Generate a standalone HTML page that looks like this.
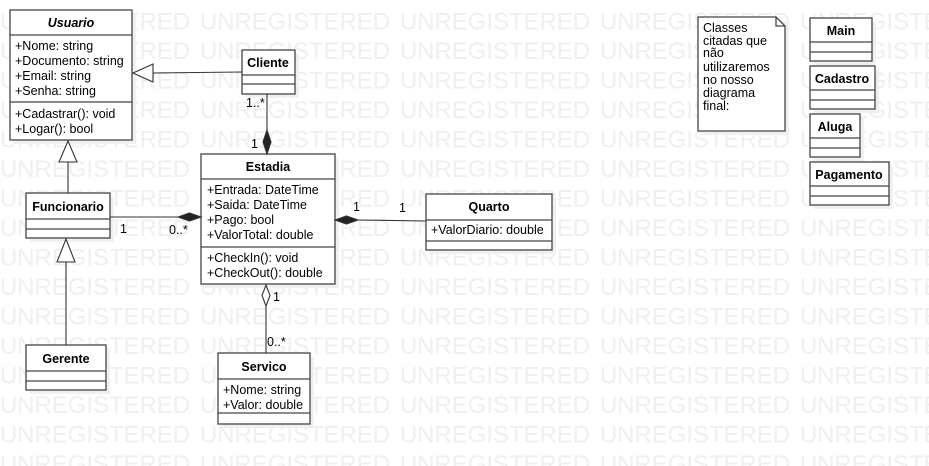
<!DOCTYPE html>
<html><head><meta charset="utf-8"><style>
html,body{margin:0;padding:0;background:#fff;}
svg{display:block;font-family:"Liberation Sans",sans-serif;}
</style></head><body>
<svg width="929" height="466" viewBox="0 0 929 466" xmlns="http://www.w3.org/2000/svg">
<defs>
<pattern id="wm" x="0" y="0.5" width="200" height="29.5" patternUnits="userSpaceOnUse">
<text x="0" y="29" font-size="24" fill="#efefef" textLength="190" lengthAdjust="spacingAndGlyphs" font-family="Liberation Sans, sans-serif">UNREGISTERED</text>
</pattern>
</defs>
<rect x="0" y="0" width="929" height="466" fill="url(#wm)"/>
<!-- shadows -->
<g fill="#f0f0f0">
<rect x="14" y="14" width="122" height="130"/><rect x="246" y="54" width="53" height="44"/>
<rect x="30" y="197" width="84" height="45"/><rect x="30" y="349" width="80" height="45"/>
<rect x="205" y="158" width="134" height="130"/><rect x="430" y="198" width="126" height="56"/>
<rect x="222" y="357" width="92" height="71"/><rect x="702" y="21" width="87" height="114"/>
<rect x="814" y="22" width="62" height="43"/><rect x="814" y="70" width="65" height="43"/>
<rect x="814" y="118" width="50" height="43"/><rect x="814" y="166" width="79" height="43"/>
</g>
<g fill="#fff" stroke="#444" stroke-width="1.3">
<rect x="10" y="10" width="122" height="130"/><line x1="10" y1="35" x2="132" y2="35"/><line x1="10" y1="102" x2="132" y2="102"/>
<rect x="242" y="50" width="53" height="44"/><line x1="242" y1="75" x2="295" y2="75"/><line x1="242" y1="84" x2="295" y2="84"/>
<rect x="26" y="193" width="84" height="45"/><line x1="26" y1="219" x2="110" y2="219"/><line x1="26" y1="229" x2="110" y2="229"/>
<rect x="26" y="345" width="80" height="45"/><line x1="26" y1="371" x2="106" y2="371"/><line x1="26" y1="381" x2="106" y2="381"/>
<rect x="201" y="154" width="134" height="130"/><line x1="201" y1="179" x2="335" y2="179"/><line x1="201" y1="247" x2="335" y2="247"/>
<rect x="426" y="194" width="126" height="56"/><line x1="426" y1="220" x2="552" y2="220"/><line x1="426" y1="241" x2="552" y2="241"/>
<rect x="218" y="353" width="92" height="71"/><line x1="218" y1="379" x2="310" y2="379"/><line x1="218" y1="413" x2="310" y2="413"/>
<path d="M698 17 H776 L785 26 V131 H698 Z"/><path d="M776 17 V26 H785" fill="none"/>
<rect x="810" y="18" width="62" height="43"/><line x1="810" y1="42" x2="872" y2="42"/><line x1="810" y1="52" x2="872" y2="52"/>
<rect x="810" y="66" width="65" height="43"/><line x1="810" y1="90" x2="875" y2="90"/><line x1="810" y1="100" x2="875" y2="100"/>
<rect x="810" y="114" width="50" height="43"/><line x1="810" y1="138" x2="860" y2="138"/><line x1="810" y1="148" x2="860" y2="148"/>
<rect x="810" y="162" width="79" height="43"/><line x1="810" y1="186" x2="889" y2="186"/><line x1="810" y1="196" x2="889" y2="196"/>
</g>
<!-- connectors -->
<g stroke="#333" stroke-width="1.1" fill="none">
<line x1="242" y1="72" x2="153" y2="73"/><path d="M153 64 L133 73 L153 82 Z" fill="#fff"/>
<line x1="68" y1="193" x2="68" y2="162"/><path d="M59 162 L68 141 L77 162 Z" fill="#fff"/>
<line x1="66" y1="345" x2="66" y2="262"/><path d="M57 262 L66 239 L75 262 Z" fill="#fff"/>
<line x1="267" y1="94" x2="267" y2="131"/><path d="M267 130 L271 142 L267 154 L263 142 Z" fill="#222"/>
<line x1="110" y1="217" x2="178" y2="217"/><path d="M178 217 L189.5 213 L201 217 L189.5 221 Z" fill="#222"/>
<line x1="358" y1="220" x2="426" y2="221"/><path d="M335 220 L346.5 216 L358 220 L346.5 224 Z" fill="#222"/>
<line x1="266" y1="306" x2="266" y2="353"/><path d="M266 285 L270 295.5 L266 306 L262 295.5 Z" fill="#fff"/>
</g>
<g font-size="12.5" fill="#000">
<text x="71" y="27" font-weight="bold" font-style="italic" text-anchor="middle">Usuario</text>
<text x="15" y="50">+Nome: string</text><text x="15" y="65">+Documento: string</text>
<text x="15" y="80">+Email: string</text><text x="15" y="95">+Senha: string</text>
<text x="15" y="118">+Cadastrar(): void</text><text x="15" y="133">+Logar(): bool</text>
<text x="268" y="67" font-weight="bold" text-anchor="middle">Cliente</text>
<text x="68" y="211" font-weight="bold" text-anchor="middle">Funcionario</text>
<text x="66" y="363" font-weight="bold" text-anchor="middle">Gerente</text>
<text x="268" y="171" font-weight="bold" text-anchor="middle">Estadia</text>
<text x="207" y="194">+Entrada: DateTime</text><text x="207" y="209">+Saida: DateTime</text>
<text x="207" y="224">+Pago: bool</text><text x="207" y="239">+ValorTotal: double</text>
<text x="207" y="262">+CheckIn(): void</text><text x="207" y="277">+CheckOut(): double</text>
<text x="489" y="211" font-weight="bold" text-anchor="middle">Quarto</text>
<text x="431" y="234">+ValorDiario: double</text>
<text x="264" y="371" font-weight="bold" text-anchor="middle">Servico</text>
<text x="223" y="394">+Nome: string</text><text x="223" y="409">+Valor: double</text>
<text x="841" y="35" font-weight="bold" text-anchor="middle">Main</text>
<text x="842" y="83" font-weight="bold" text-anchor="middle">Cadastro</text>
<text x="835" y="131" font-weight="bold" text-anchor="middle">Aluga</text>
<text x="849" y="179" font-weight="bold" text-anchor="middle">Pagamento</text>
<text x="246" y="107">1..*</text><text x="251" y="148">1</text>
<text x="120" y="233">1</text><text x="169" y="234">0..*</text>
<text x="353" y="211">1</text><text x="399" y="212">1</text>
<text x="273" y="301">1</text><text x="267" y="346">0..*</text>
<text x="703" y="32">Classes</text><text x="703" y="45">citadas que</text>
<text x="703" y="57">não</text><text x="703" y="71">utilizaremos</text>
<text x="703" y="84">no nosso</text><text x="703" y="97">diagrama</text>
<text x="703" y="110">final:</text>
</g>
</svg>
</body></html>
